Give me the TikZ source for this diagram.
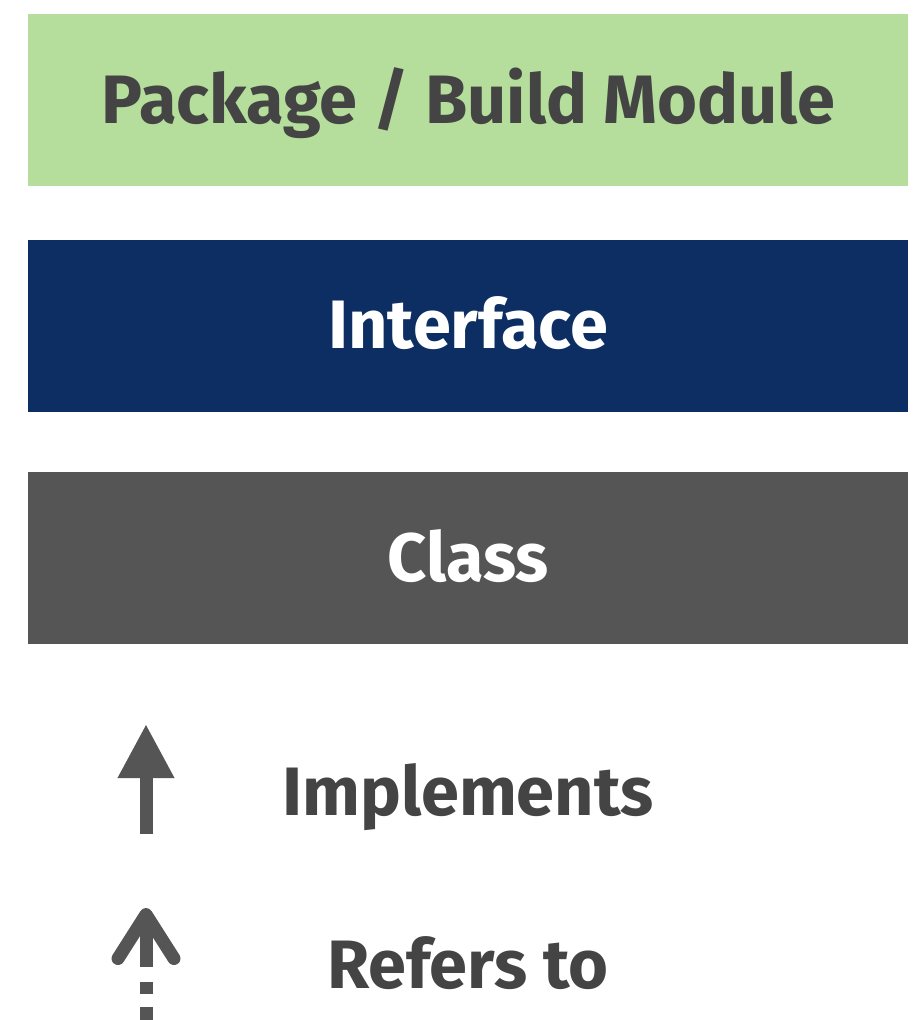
\documentclass[tikz,border=0pt]{standalone}
\usepackage{fontspec}
\setmainfont{Fira Sans}
\usetikzlibrary{arrows.meta}
\definecolor{pkggreen}{HTML}{B5DD9B}
\definecolor{ifnavy}{HTML}{0D2E63}
\definecolor{clsgrey}{HTML}{555555}
\definecolor{txtdark}{HTML}{444444}
\definecolor{arrgrey}{HTML}{555555}
\begin{document}
\begin{tikzpicture}[x=1pt,y=-1pt,
  legendbox/.style={minimum width=880pt,minimum height=172pt,inner sep=0pt,outer sep=0pt},
  labeltext/.style={font=\fontsize{68.5}{72}\selectfont\bfseries,inner sep=0pt,anchor=base},
  arrowline/.style={draw=arrgrey,line width=13pt}]
\useasboundingbox (0,0) rectangle (919,1020);
\node[legendbox,fill=pkggreen] (pkg) at (468,100) {};
\node[legendbox,fill=ifnavy] (iface) at (468,326) {};
\node[legendbox,fill=clsgrey] (cls) at (468,558) {};
\node[labeltext,text=txtdark] (pkgt) at (468.5,123) {Package / Build Module};
\node[labeltext,text=white] (ifacet) at (468,348) {Interface};
\node[labeltext,text=white] (clst) at (468,581) {Class};
\node[labeltext,text=txtdark] (impl) at (468,815) {Implements};
\node[labeltext,text=txtdark] (refs) at (468,988) {Refers to};
\coordinate (a1s) at (146,834);
\coordinate (a1e) at (146,724);
\draw[arrowline,-{Triangle[length=54pt,width=53pt]}] (a1s) -- (a1e);
\coordinate (a2s) at (146,1021);
\coordinate (a2e) at (146,908);
\draw[arrowline,dash pattern=on 14pt off 13pt on 12pt off 15pt on 100pt off 0pt,
  -{Straight Barb[length=44pt,width=56pt,round]}] (a2s) -- (a2e);
\end{tikzpicture}
\end{document}
